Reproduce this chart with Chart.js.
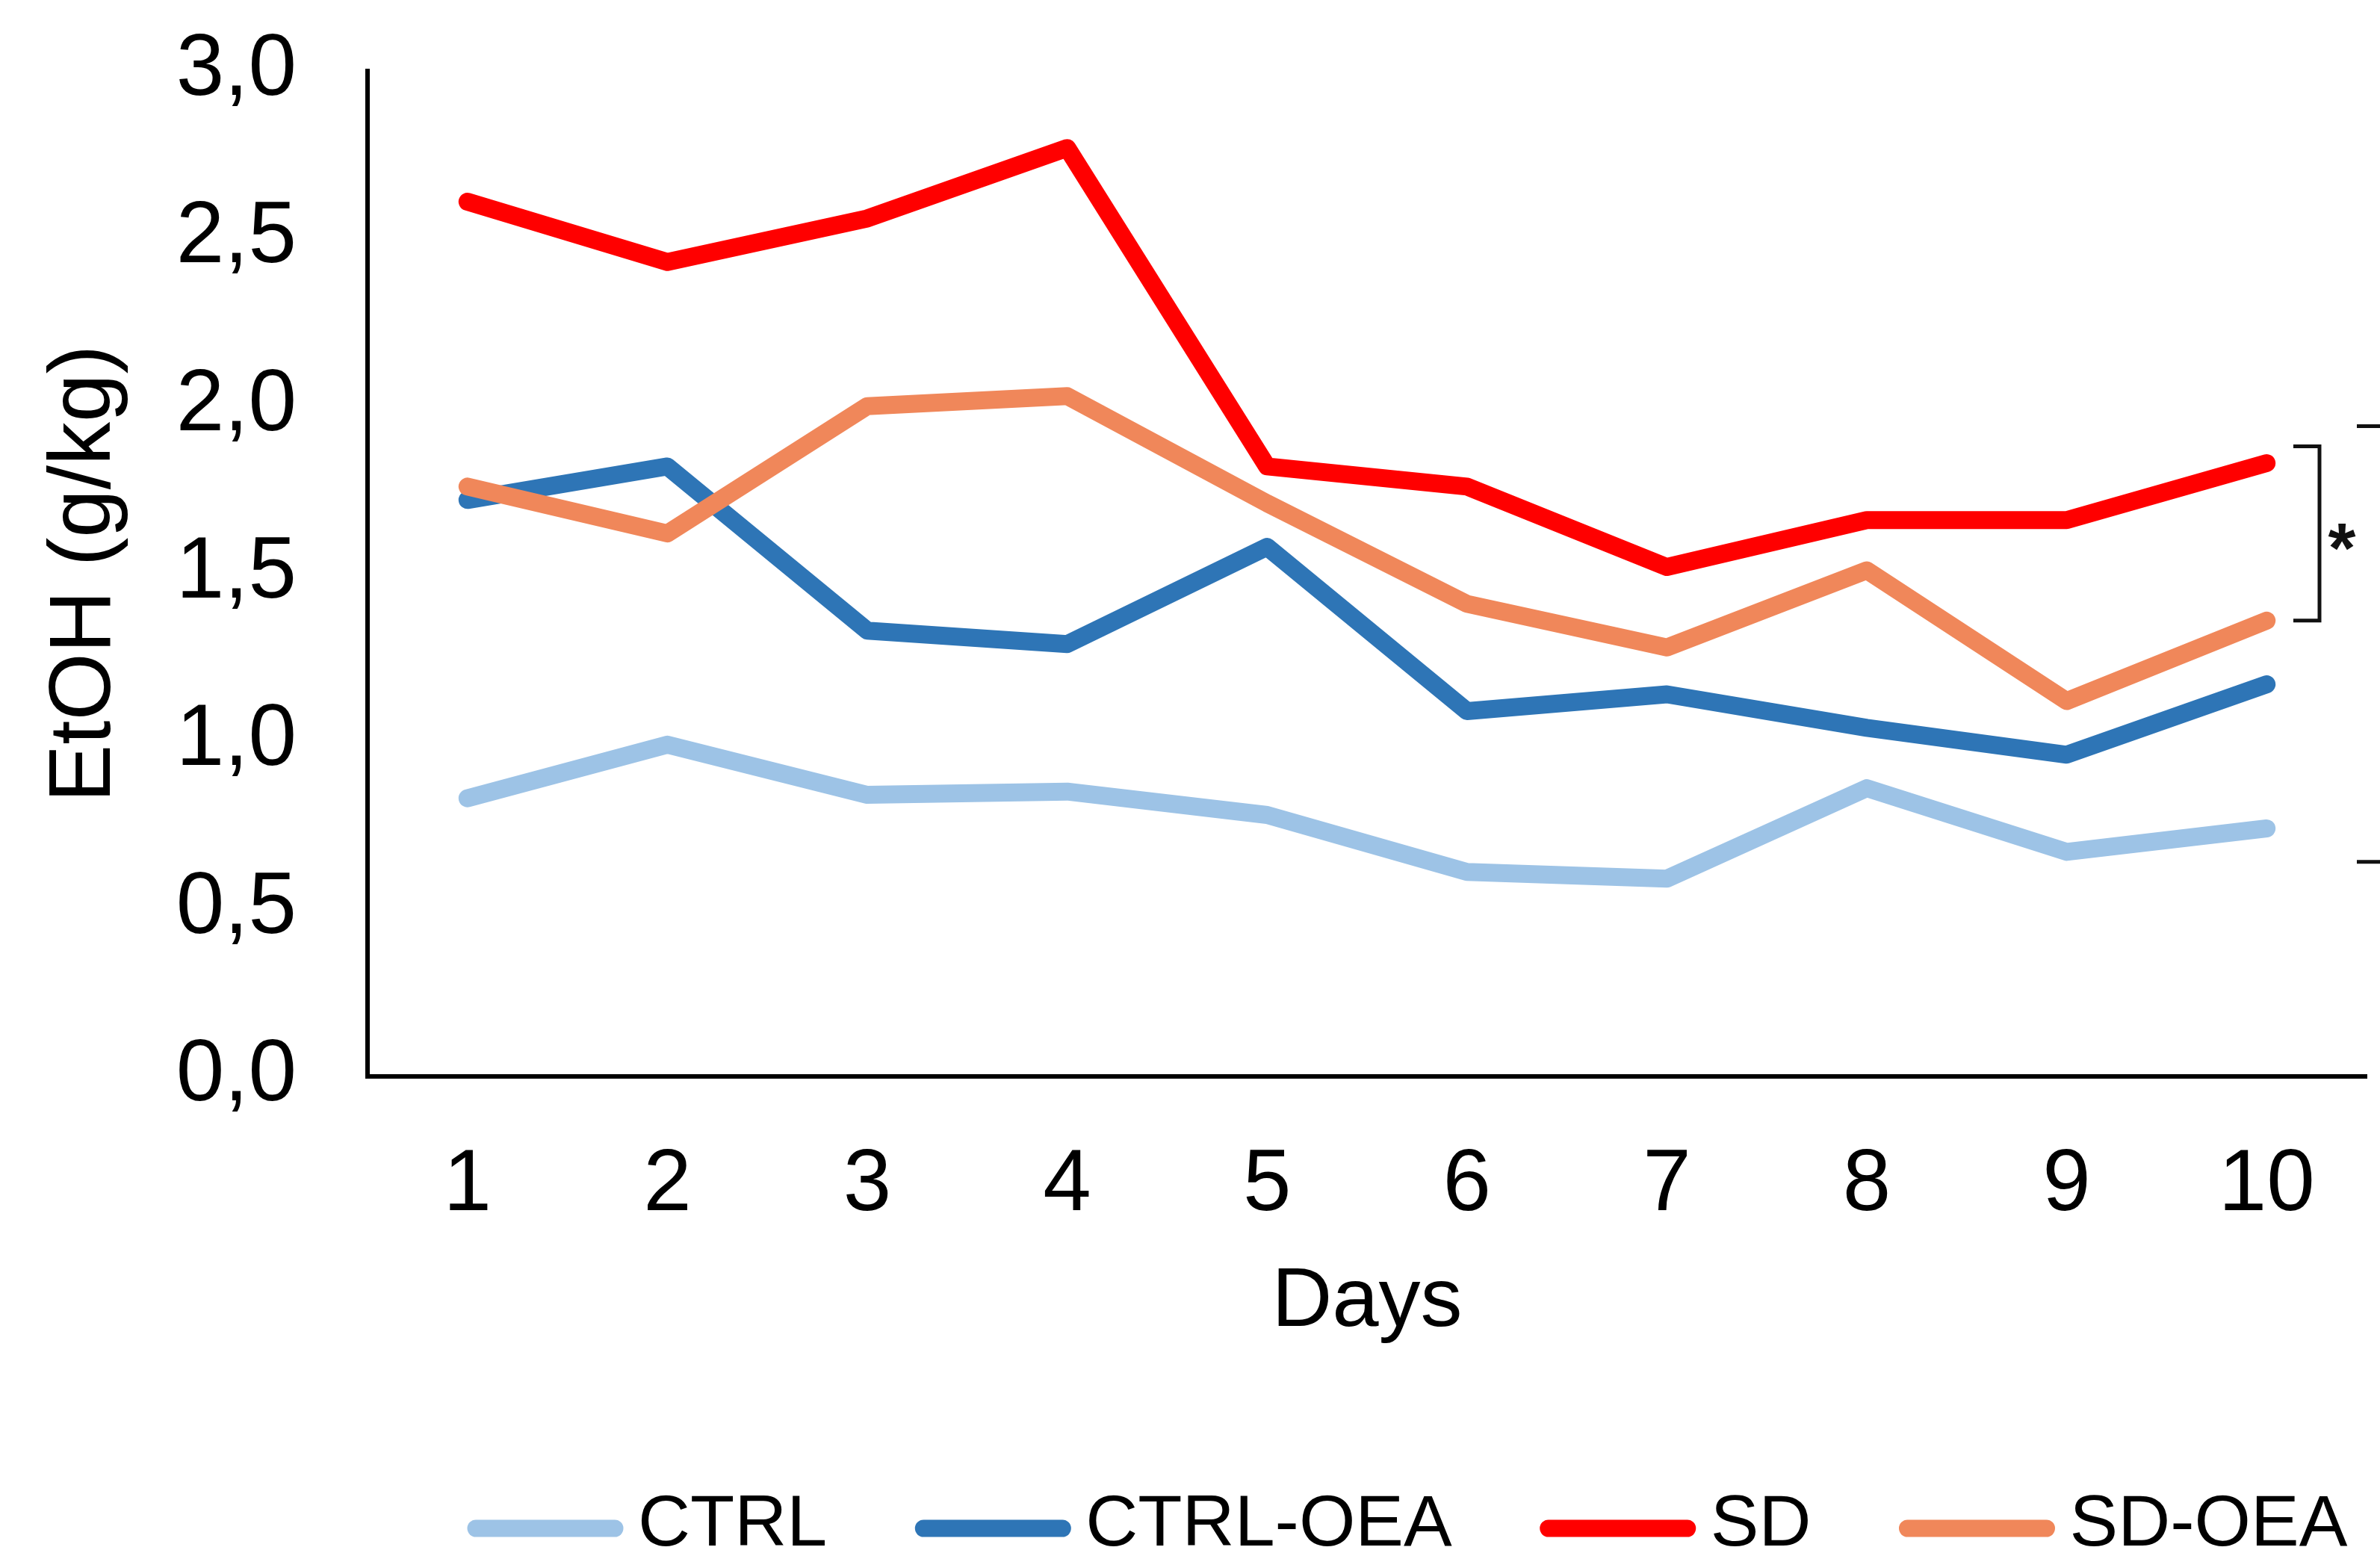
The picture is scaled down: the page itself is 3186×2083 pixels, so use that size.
<!DOCTYPE html>
<html>
<head>
<meta charset="utf-8">
<title>EtOH intake</title>
<script src="https://cdn.jsdelivr.net/npm/chart.js"></script>
<style>
  body { margin: 0; background: #fff; }
  canvas { display: block; }
</style>
</head>
<body>
<canvas id="myChart" width="3186" height="2083"></canvas>
<script>
// data
const days = ['1', '2', '3', '4', '5', '6', '7', '8', '9', '10'];
const ctrl = [0.83, 0.99, 0.84, 0.85, 0.78, 0.61, 0.59, 0.86, 0.67, 0.74];
const ctrlOea = [1.72, 1.82, 1.33, 1.29, 1.58, 1.09, 1.14, 1.04, 0.96, 1.17];
const sd = [2.61, 2.43, 2.56, 2.77, 1.82, 1.76, 1.52, 1.66, 1.66, 1.83];
const sdOea = [1.76, 1.62, 2.00, 2.03, 1.71, 1.41, 1.28, 1.51, 1.12, 1.36];
const yTickLabels = ['0,0', '0,5', '1,0', '1,5', '2,0', '2,5', '3,0'];

// significance brackets (value ranges)
const bracketFrom = [1.36, 0.64];
const bracketTo = [1.88, 1.94];
const bracketText = ['*', ''];

const font = 'Liberation Sans, Arial, sans-serif';

function makeSet(label, data, color, order) {
  return {
    label: label,
    data: data,
    borderColor: color,
    backgroundColor: color,
    borderWidth: 24,
    borderCapStyle: 'round',
    borderJoinStyle: 'round',
    pointRadius: 0,
    tension: 0,
    order: order
  };
}

// legend drawn by hand so the spacing matches the figure
const bottomLegend = {
  id: 'bottomLegend',
  afterDraw(chart) {
    const ctx = chart.ctx;
    let x = 626;
    const y = 2042;
    ctx.save();
    ctx.font = '97px ' + font;
    ctx.textBaseline = 'middle';
    ctx.fillStyle = '#000';
    chart.data.datasets.forEach(ds => {
      ctx.strokeStyle = ds.borderColor;
      ctx.lineWidth = 23;
      ctx.lineCap = 'round';
      ctx.beginPath();
      ctx.moveTo(x + 11, y + 4);
      ctx.lineTo(x + 197, y + 4);
      ctx.stroke();
      x += 228;
      ctx.fillText(ds.label, x, y);
      x += ctx.measureText(ds.label).width + 118;
    });
    ctx.restore();
  }
};

const brackets = {
  id: 'brackets',
  afterDraw(chart) {
    const ctx = chart.ctx;
    const yScale = chart.scales.y;
    const right = chart.chartArea.right;
    ctx.save();
    ctx.strokeStyle = '#111';
    ctx.lineWidth = 5;
    // inner bracket
    let top = yScale.getPixelForValue(bracketTo[0]);
    let bot = yScale.getPixelForValue(bracketFrom[0]);
    ctx.beginPath();
    ctx.moveTo(right - 98, top);
    ctx.lineTo(right - 63, top);
    ctx.lineTo(right - 63, bot);
    ctx.lineTo(right - 98, bot);
    ctx.stroke();
    ctx.font = 'bold 95px ' + font;
    ctx.fillStyle = '#111';
    ctx.textAlign = 'center';
    ctx.textBaseline = 'alphabetic';
    ctx.fillText(bracketText[0], right - 33, (top + bot) / 2 + 52);
    // outer bracket, runs off the right edge
    top = yScale.getPixelForValue(bracketTo[1]);
    bot = yScale.getPixelForValue(bracketFrom[1]);
    ctx.beginPath();
    ctx.moveTo(right - 13, top);
    ctx.lineTo(right + 30, top);
    ctx.moveTo(right - 13, bot);
    ctx.lineTo(right + 30, bot);
    ctx.stroke();
    ctx.restore();
  }
};

const ctx = document.getElementById('myChart');
const myChart = new Chart(ctx, {
  type: 'line',
  data: {
    labels: days,
    datasets: [
      makeSet('CTRL', ctrl, '#9DC3E6', 3),
      makeSet('CTRL-OEA', ctrlOea, '#2E75B6', 2),
      makeSet('SD', sd, '#FF0000', 1),
      makeSet('SD-OEA', sdOea, '#F0875A', 0)
    ]
  },
  options: {
    responsive: false,
    animation: false,
    layout: {
      padding: { left: 40, top: 95, right: 18, bottom: 262 }
    },
    plugins: {
      legend: { display: false },
      tooltip: { enabled: false }
    },
    scales: {
      x: {
        offset: true,
        grid: { display: false, drawTicks: false },
        border: { display: true, color: '#000', width: 6 },
        ticks: {
          color: '#000',
          padding: 77,
          font: { family: font, size: 116 }
        },
        title: {
          display: true,
          text: 'Days',
          color: '#000',
          padding: { top: 0, bottom: 10 },
          font: { family: font, size: 112 }
        },
        afterFit(scale) { scale.height = 380; }
      },
      y: {
        min: 0,
        max: 3,
        grid: { display: false, drawTicks: false },
        border: { display: true, color: '#000', width: 6 },
        ticks: {
          stepSize: 0.5,
          color: '#000',
          padding: 95,
          font: { family: font, size: 116 },
          callback: (value, index) => yTickLabels[index]
        },
        title: {
          display: true,
          text: 'EtOH (g/kg)',
          color: '#000',
          padding: { top: 5, bottom: 0 },
          font: { family: font, size: 116 }
        },
        afterFit(scale) {
          scale.width = 452;
          // tick padding would otherwise push the plot top down
          scale.paddingTop = 0;
          scale.paddingBottom = 0;
        }
      }
    }
  },
  plugins: [bottomLegend, brackets]
});
</script>
</body>
</html>
